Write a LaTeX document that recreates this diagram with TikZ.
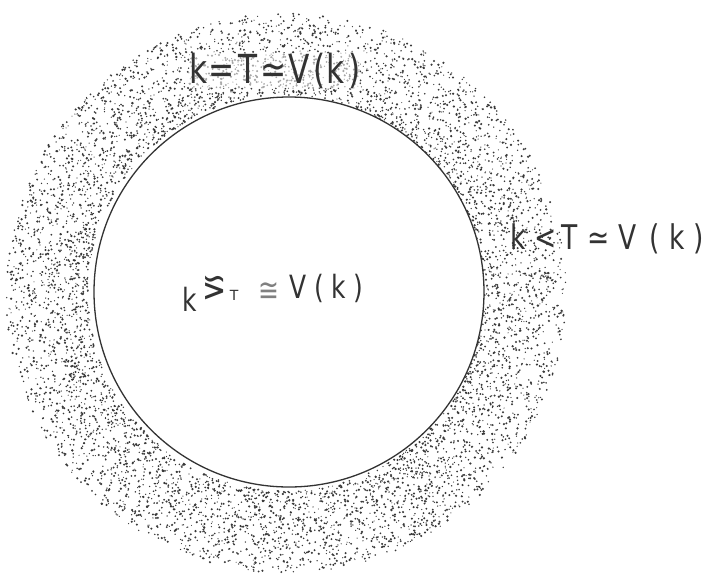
\documentclass[tikz,border=0pt]{standalone}
\usepackage{fontspec}
\usepackage{graphicx}
\setmainfont{DejaVu Sans}
\definecolor{ink}{HTML}{333333}
\definecolor{dotc}{HTML}{383838}
\tikzset{
  lbl/.style={text=ink, inner sep=0pt},
  ring/.style={circle, draw=ink, line width=1.3pt, minimum size=390pt, inner sep=0pt}
}
\newcommand{\nar}[1]{\scalebox{0.78}[1]{#1}}
\newcommand{\gtsim}{\raisebox{21pt}{\scalebox{0.9}[-1.2]{≳}}}
\begin{document}
\begin{tikzpicture}[x=1pt,y=-1pt]
\useasboundingbox (0,0) rectangle (714,576);
\fill[white] (0,0) rectangle (714,576);
\pgfmathsetseed{7}
\foreach \i in {1,...,6500}{
  \pgfmathsetmacro{\ang}{360*rnd}
  \pgfmathsetmacro{\rad}{198+82*(rnd^1.15)}
  \pgfmathsetmacro{\px}{286+\rad*cos(\ang)}
  \pgfmathsetmacro{\py}{293+\rad*sin(\ang)}
  \pgfmathsetmacro{\sz}{0.55+0.7*rnd}
  \fill[dotc] (\px,\py) circle (\sz pt);
}
\node[ring, fill=white] (inner) at (289,292) {};
\node[lbl, anchor=base west, fill=white, fill opacity=0.55, text opacity=1,
      font=\fontsize{40}{40}\selectfont] (top) at (189,83)
  {\nar{k\hspace{2pt}=\hspace{4pt}T\hspace{4pt}≃\hspace{3pt}V\hspace{4pt}(\hspace{2pt}k\hspace{4pt})}};
\node[lbl, anchor=base west, font=\fontsize{34}{34}\selectfont] (right) at (510,249)
  {\nar{k\hspace{12pt}<\hspace{6pt}T\hspace{12pt}≃\hspace{12pt}V\hspace{16pt}(\hspace{12pt}k\hspace{12pt})}};
\node[lbl, anchor=base west, font=\fontsize{32}{32}\selectfont] (mid) at (182,298)
  {\raisebox{-13pt}{\nar{k}}\hspace{6pt}\gtsim\hspace{3pt}\raisebox{-2pt}{\fontsize{14}{14}\selectfont T}\hspace{20pt}\raisebox{-3pt}{\color{gray}\nar{≅}}\hspace{10pt}\nar{V\hspace{10pt}(\hspace{10pt}k\hspace{10pt})}};
\end{tikzpicture}
\end{document}
